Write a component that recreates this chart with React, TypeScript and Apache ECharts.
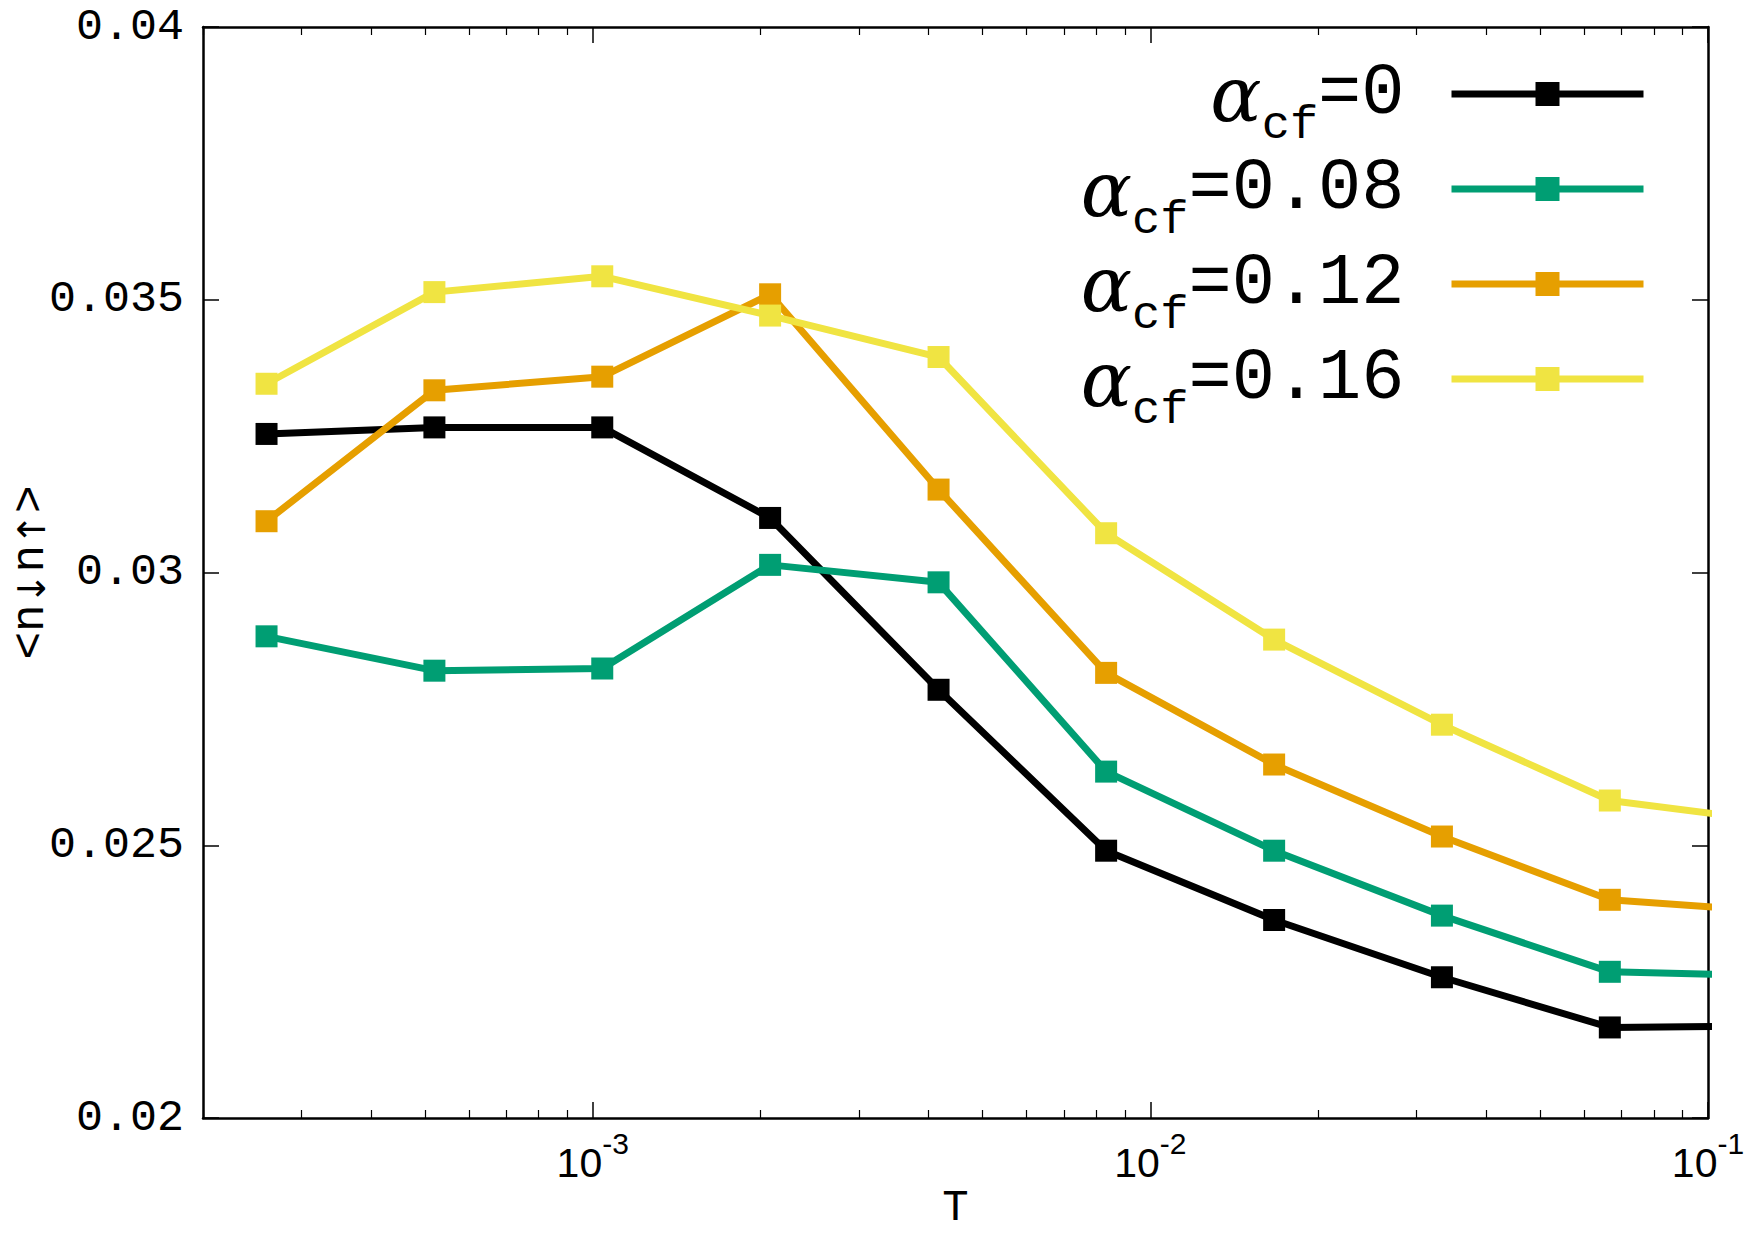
import React, { useEffect, useRef } from "react";
import * as echarts from "echarts";

// Temperatures (x values)
const temperatures = [0.00026, 0.00052, 0.00104, 0.00208, 0.00417, 0.00833, 0.01667, 0.03333, 0.06667, 0.13333];

// <n_down n_up> for each alpha_cf
const alpha0 = [0.03254, 0.03266, 0.03266, 0.03100, 0.02785, 0.02490, 0.02363, 0.02258, 0.02166, 0.02169];
const alpha008 = [0.02883, 0.02820, 0.02824, 0.03014, 0.02982, 0.02635, 0.02490, 0.02371, 0.02268, 0.02261];
const alpha012 = [0.03094, 0.03334, 0.03359, 0.03510, 0.03152, 0.02816, 0.02648, 0.02516, 0.02400, 0.02378];
const alpha016 = [0.03346, 0.03514, 0.03543, 0.03471, 0.03395, 0.03072, 0.02877, 0.02721, 0.02582, 0.02543];

const alphaLabels = ["0", "0.08", "0.12", "0.16"];
const seriesValues = [alpha0, alpha008, alpha012, alpha016];
const seriesColors = ["#000000", "#009e73", "#e69f00", "#f0e442"];

// Axis ticks
const xMin = 0.0002;
const xMax = 0.1;
const xMajorTicks = [0.001, 0.01, 0.1];
const xMinorTicks = [
  0.0002, 0.0003, 0.0004, 0.0005, 0.0006, 0.0007, 0.0008, 0.0009,
  0.002, 0.003, 0.004, 0.005, 0.006, 0.007, 0.008, 0.009,
  0.02, 0.03, 0.04, 0.05, 0.06, 0.07, 0.08, 0.09,
];
const yMin = 0.02;
const yMax = 0.04;
const yStep = 0.005;

const MONO = "'Liberation Mono', 'DejaVu Sans Mono', monospace";
const SANS = "'Liberation Sans', 'DejaVu Sans', sans-serif";

export default function App() {
  const ref = useRef<HTMLDivElement>(null);

  useEffect(() => {
    if (!ref.current) return;
    const chart = echarts.init(ref.current, undefined, { renderer: "svg" });

    const frameLine = { show: true, lineStyle: { color: "#000", width: 2.5 } };

    const xAxisBase = (position: string) => ({
      type: "log",
      logBase: 10,
      min: xMin,
      max: xMax,
      position,
      splitLine: { show: false },
      axisLine: frameLine,
      axisTick: {
        show: true,
        inside: true,
        length: 16,
        customValues: xMajorTicks,
        lineStyle: { color: "#000", width: 1.5 },
      },
      axisLabel: { show: false },
    });

    const xAxisMinor = (position: string) => ({
      type: "log",
      logBase: 10,
      min: xMin,
      max: xMax,
      position,
      splitLine: { show: false },
      axisLine: { show: false },
      axisTick: {
        show: true,
        inside: true,
        length: 8,
        customValues: xMinorTicks,
        lineStyle: { color: "#000", width: 1.2 },
      },
      axisLabel: { show: false },
    });

    const yAxisBase = (position: string) => ({
      type: "value",
      min: yMin,
      max: yMax,
      interval: yStep,
      position,
      splitLine: { show: false },
      axisLine: frameLine,
      axisTick: {
        show: true,
        inside: true,
        length: 16,
        lineStyle: { color: "#000", width: 1.5 },
      },
      axisLabel: { show: false },
    });

    const option: any = {
      animation: false,
      backgroundColor: "#ffffff",
      grid: {
        left: 203,
        right: 47,
        top: 27,
        bottom: 122,
        containLabel: false,
        outerBoundsMode: "none",
      },
      legend: {
        orient: "vertical",
        right: 108,
        top: 56,
        padding: 0,
        align: "right",
        itemWidth: 192,
        itemHeight: 30,
        itemGap: 2,
        selectedMode: false,
        lineStyle: { width: 7 },
        data: alphaLabels.map((a) => "α_cf=" + a),
        formatter: (name: string) => {
          const v = name.split("=")[1];
          return "{a|α}{s|cf}{t|=" + v + "}";
        },
        textStyle: {
          color: "#000",
          rich: {
            a: {
              fontFamily: "'DejaVu Serif', 'Liberation Serif', serif",
              fontStyle: "italic",
              fontSize: 76,
              lineHeight: 110,
              color: "#000",
            },
            s: {
              fontFamily: MONO,
              fontSize: 47,
              lineHeight: 36,
              verticalAlign: "bottom",
              color: "#000",
            },
            t: {
              fontFamily: MONO,
              fontSize: 72,
              lineHeight: 110,
              padding: [0, 42, 0, 0],
              color: "#000",
            },
          },
        },
      },
      xAxis: [
        {
          ...xAxisBase("bottom"),
          name: "T",
          nameLocation: "middle",
          nameGap: 68,
          nameMoveOverlap: false,
          nameTextStyle: { fontFamily: MONO, fontSize: 44, color: "#000" },
          axisLabel: {
            show: true,
            customValues: xMajorTicks,
            margin: 10,
            fontFamily: SANS,
            fontSize: 41,
            lineHeight: 70,
            color: "#000",
            formatter: (v: number) => {
              const e = Math.round(Math.log10(v));
              return "10{e|" + String(e) + "}";
            },
            rich: {
              e: {
                fontFamily: SANS,
                fontSize: 30,
                lineHeight: 30,
                verticalAlign: "top",
                color: "#000",
              },
            },
          },
        },
        xAxisMinor("bottom"),
        xAxisBase("top"),
        xAxisMinor("top"),
      ],
      yAxis: [
        {
          ...yAxisBase("left"),
          name: "<n{d|↓}n{u|↑}>",
          nameLocation: "middle",
          nameRotate: 90,
          nameGap: 152,
          nameMoveOverlap: false,
          nameTextStyle: {
            fontFamily: MONO,
            fontSize: 46,
            lineHeight: 40,
            color: "#000",
            rich: {
              d: { fontFamily: "'DejaVu Sans', sans-serif", fontSize: 38, lineHeight: 10, verticalAlign: "bottom", color: "#000" },
              u: { fontFamily: "'DejaVu Sans', sans-serif", fontSize: 38, lineHeight: 10, verticalAlign: "bottom", color: "#000" },
            },
          },
          axisLabel: {
            show: true,
            margin: 19,
            fontFamily: MONO,
            fontSize: 45,
            color: "#000",
          },
        },
        yAxisBase("right"),
      ],
      series: seriesValues.map((vals, i) => ({
        name: "α_cf=" + alphaLabels[i],
        type: "line",
        xAxisIndex: 0,
        yAxisIndex: 0,
        data: temperatures.map((t, j) => [t, vals[j]]),
        symbol: "rect",
        symbolSize: 22,
        clip: true,
        color: seriesColors[i],
        itemStyle: { color: seriesColors[i] },
        lineStyle: { color: seriesColors[i], width: 7 },
        z: 2 + i,
      })),
    };

    chart.setOption(option);
    return () => chart.dispose();
  }, []);

  return (
    <div
      ref={ref}
      style={{ position: "absolute", left: 0, top: 0, width: 1755, height: 1240 }}
    />
  );
}
